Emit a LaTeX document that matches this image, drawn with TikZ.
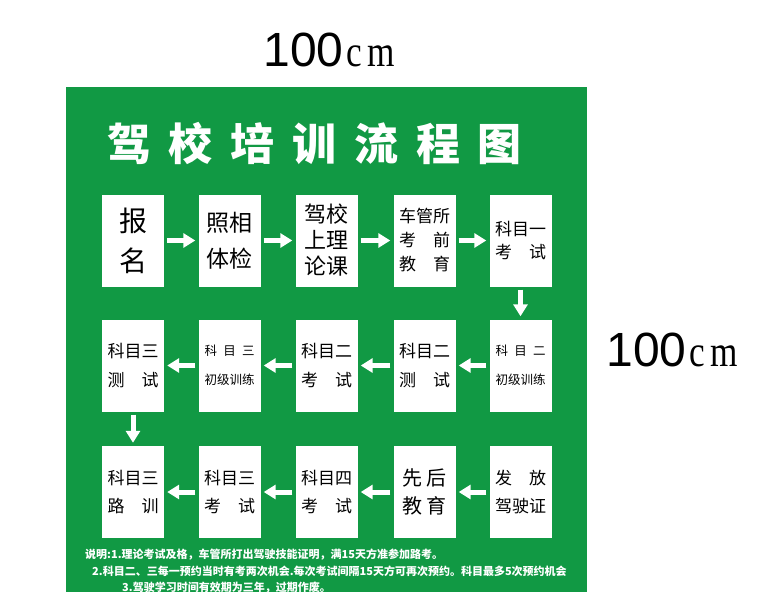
\documentclass[tikz,border=0pt]{standalone}
\usepackage{fontspec}
\usepackage{graphicx}
\setmainfont{Liberation Sans}
\newfontfamily\cjk{Noto Sans CJK SC}
\newfontfamily\serifcm{Liberation Serif}
\usetikzlibrary{arrows.meta}
\definecolor{boardgreen}{RGB}{17,153,68}
\newcommand{\fillrow}[1]{\makebox[51pt][s]{#1}}

\begin{document}
\begin{tikzpicture}[
    x=1pt, y=-1pt,
    stepbox/.style={fill=white, minimum width=62pt, minimum height=92pt, inner sep=0pt,
      align=center, font=\cjk\fontsize{17}{29}\selectfont},
    flow/.style={white, line width=5pt, -{Triangle[length=12pt, width=14pt]},
      shorten <=3pt, shorten >=3pt},
    note/.style={anchor=base west, white, inner sep=0pt, font=\cjk\bfseries\fontsize{11}{11}\selectfont}
  ]

  % --- Page and Board ---
  \useasboundingbox (0,0) rectangle (777,592);
  \clip (0,0) rectangle (777,592);
  \fill[white] (0,0) rectangle (777,592);
  \fill[boardgreen] (66,87) rectangle (587,600);

  % --- Size Labels ---
  \node (widthlabel) at (329,50)
    {\fontsize{48}{48}\selectfont 100\hspace{3pt}\serifcm\fontsize{44}{44}\selectfont\scalebox{0.8}[1]{c\hspace{6pt}m}};
  \node (heightlabel) at (672,350)
    {\fontsize{48}{48}\selectfont 100\hspace{3pt}\serifcm\fontsize{44}{44}\selectfont\scalebox{0.8}[1]{c\hspace{6pt}m}};

  % --- Title ---
  \node[white, font=\cjk\bfseries\fontsize{44}{44}\selectfont] (title) at (314.5,143)
    {\makebox[415pt][s]{驾\hfill 校\hfill 培\hfill 训\hfill 流\hfill 程\hfill 图}};

  % --- Row 1 ---
  \node[stepbox, font=\cjk\fontsize{28}{40}\selectfont] (s1) at (133,240.5) {报\\名};
  \node[stepbox, font=\cjk\fontsize{23}{36}\selectfont] (s2) at (229.5,240.5) {照相\\体检};
  \node[stepbox, font=\cjk\fontsize{22}{26}\selectfont] (s3) at (326.5,240.5) {驾校\\上理\\论课};
  \node[stepbox, font=\cjk\fontsize{17}{24}\selectfont] (s4) at (424.5,240.5)
    {\fillrow{车\hfill 管\hfill 所}\\\fillrow{考\hfill 前}\\\fillrow{教\hfill 育}};
  \node[stepbox, font=\cjk\fontsize{17}{23}\selectfont] (s5) at (520.5,240.5)
    {\fillrow{科\hfill 目\hfill 一}\\\fillrow{考\hfill 试}};

  % --- Row 2 ---
  \node[stepbox, font=\cjk\fontsize{12.5}{29}\selectfont] (s6) at (520.5,365.5)
    {\makebox[50pt][s]{科\hfill 目\hfill 二}\\初级训练};
  \node[stepbox] (s7) at (424.5,365.5) {\fillrow{科\hfill 目\hfill 二}\\\fillrow{测\hfill 试}};
  \node[stepbox] (s8) at (326.5,365.5) {\fillrow{科\hfill 目\hfill 二}\\\fillrow{考\hfill 试}};
  \node[stepbox, font=\cjk\fontsize{12.5}{29}\selectfont] (s9) at (229.5,365.5)
    {\makebox[50pt][s]{科\hfill 目\hfill 三}\\初级训练};
  \node[stepbox] (s10) at (133,365.5) {\fillrow{科\hfill 目\hfill 三}\\\fillrow{测\hfill 试}};

  % --- Row 3 ---
  \node[stepbox, font=\cjk\fontsize{17}{28}\selectfont] (s11) at (133,492)
    {\fillrow{科\hfill 目\hfill 三}\\\fillrow{路\hfill 训}};
  \node[stepbox, font=\cjk\fontsize{17}{28}\selectfont] (s12) at (229.5,492)
    {\fillrow{科\hfill 目\hfill 三}\\\fillrow{考\hfill 试}};
  \node[stepbox, font=\cjk\fontsize{17}{28}\selectfont] (s13) at (326.5,492)
    {\fillrow{科\hfill 目\hfill 四}\\\fillrow{考\hfill 试}};
  \node[stepbox, font=\cjk\fontsize{20}{28}\selectfont] (s14) at (424.5,492)
    {\makebox[44pt][s]{先\hfill 后}\\\makebox[44pt][s]{教\hfill 育}};
  \node[stepbox, font=\cjk\fontsize{17}{28}\selectfont] (s15) at (520.5,492)
    {\fillrow{发\hfill 放}\\\fillrow{驾\hfill 驶\hfill 证}};

  % --- Arrows ---
  \foreach \a/\b in {s1/s2, s2/s3, s3/s4, s4/s5, s5/s6, s6/s7, s7/s8, s8/s9, s9/s10,
                     s10/s11, s12/s11, s13/s12, s14/s13, s15/s14} {
    \draw[flow] (\a) -- (\b);
  }

  % --- Notes ---
  \node[note] (note1) at (85,558) {说明:1.理论考试及格，车管所打出驾驶技能证明，满15天方准参加路考。};
  \node[note] (note2) at (92,575) {2.科目二、三每一预约当时有考两次机会.每次考试间隔15天方可再次预约。科目最多5次预约机会};
  \node[note] (note3) at (122,591) {3.驾驶学习时间有效期为三年，过期作废。};

\end{tikzpicture}
\end{document}
